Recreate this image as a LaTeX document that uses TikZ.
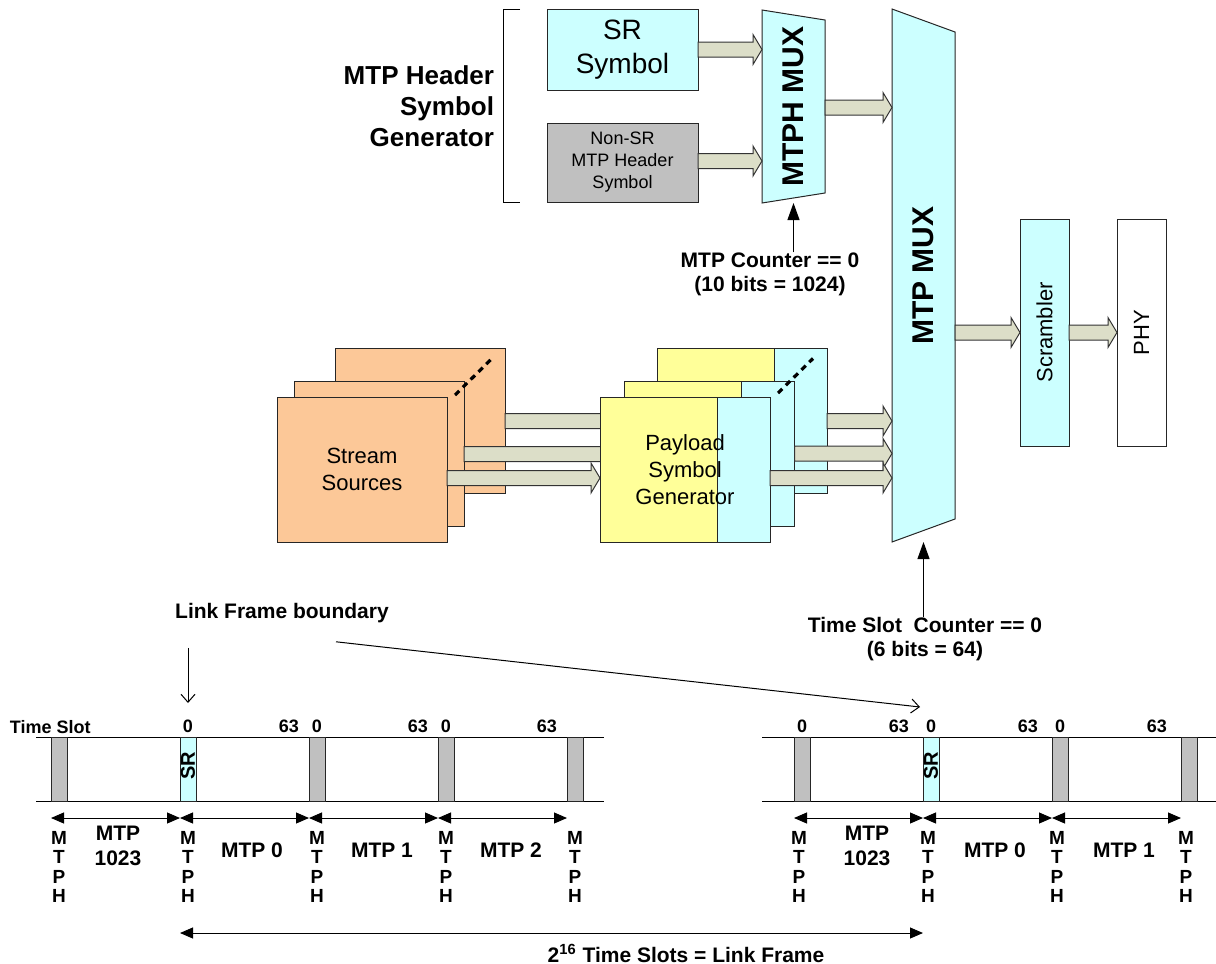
\documentclass[tikz,border=0pt]{standalone}
\usepackage{fontspec}
\setmainfont{Liberation Sans}
\usepackage{graphicx}
\usetikzlibrary{arrows.meta, positioning, calc}
\definecolor{muxcyan}{HTML}{CCFFFF}
\definecolor{hdrgray}{HTML}{C0C0C0}
\definecolor{srcorange}{HTML}{FCC898}
\definecolor{genyellow}{HTML}{FFFF99}
\definecolor{pipefill}{HTML}{DCDEC8}
\pgfdeclarelayer{bg}
\pgfdeclarelayer{fg}
\pgfsetlayers{bg,main,fg}

% block arrow: y from the first point, tip x from the second
\newcommand{\fatarrow}[2]{%
  \draw[pipe] let \p1=#1, \p2=#2 in
    (\x1,\y1+3.75pt) -- (\x2-4.5pt,\y1+3.75pt) -- (\x2-4.5pt,\y1+7.5pt) -- (\x2,\y1)
    -- (\x2-4.5pt,\y1-7.5pt) -- (\x2-4.5pt,\y1-3.75pt) -- (\x1,\y1-3.75pt) -- cycle;}
% mux outline behind a node, right side shorter by #2 at both ends
\newcommand{\muxoutline}[2]{%
  \begin{pgfonlayer}{bg}
    \draw[muxline] (#1.north west) -- ([yshift=-#2]#1.north east) -- ([yshift=#2]#1.south east) -- (#1.south west) -- cycle;
  \end{pgfonlayer}}

\begin{document}
\begin{tikzpicture}[
    x=0.5pt, y=-0.5pt,
    every node/.style={inner sep=0pt, outer sep=0pt},
    box/.style={rectangle, draw=black!85, line width=0.5pt, align=center},
    srbox/.style={box, fill=muxcyan, minimum width=75.5pt, minimum height=40.5pt, font=\fontsize{14}{17}\selectfont},
    hdrbox/.style={box, fill=hdrgray, minimum width=75.5pt, minimum height=39.5pt, font=\fontsize{9}{11}\selectfont},
    muxbox/.style={minimum width=31.5pt, font=\bfseries\fontsize{15}{18}\selectfont},
    muxline/.style={draw=black!85, line width=0.5pt, fill=muxcyan},
    tallbox/.style={box, minimum width=24.5pt, minimum height=113.5pt, font=\fontsize{11}{13}\selectfont},
    stream/.style={box, fill=srcorange, minimum width=85pt, minimum height=72.5pt, font=\fontsize{11}{13.5}\selectfont},
    payload/.style={box, fill=genyellow, minimum width=85pt, minimum height=72.5pt, font=\fontsize{11}{13.5}\selectfont,
      path picture={
        \fill[muxcyan] ([xshift=-26.5pt]path picture bounding box.north east) rectangle (path picture bounding box.south east);
        \draw[black!85, line width=0.5pt] ([xshift=-26.5pt]path picture bounding box.north east) -- ([xshift=-26.5pt]path picture bounding box.south east);}},
    pipe/.style={draw=black!80, line width=0.5pt, fill=pipefill},
    dots/.style={line width=1.6pt, dash pattern=on 3pt off 2.5pt},
    ctrl/.style={-{Triangle[width=6pt,length=8.5pt]}, line width=0.5pt},
    pointer/.style={-{Straight Barb[width=7pt,length=4pt]}, line width=0.5pt},
    dimarrow/.style={arrows={Triangle[width=5.5pt,length=6.5pt]-Triangle[width=5.5pt,length=6.5pt]}, line width=0.5pt},
    slot/.style={box, fill=hdrgray, minimum width=8pt, minimum height=32pt},
    srslot/.style={slot, fill=muxcyan, font=\bfseries\fontsize{10}{12}\selectfont},
    mtphcol/.style={align=center, font=\bfseries\fontsize{9.5}{9.65}\selectfont},
    mtplabel/.style={align=center, font=\bfseries\fontsize{10.5}{12.5}\selectfont},
    tick/.style={font=\bfseries\fontsize{9}{10}\selectfont},
    note/.style={align=center, font=\bfseries\fontsize{10.5}{12}\selectfont}
]
\useasboundingbox (0,0) rectangle (1216,964);

% MTP header symbol generator
\node[srbox] (srsym) at (622.5,49.5) {SR\\Symbol};
\node[hdrbox] (nonsr) at (622.5,162.5) {Non-SR\\MTP Header\\Symbol};
\node[anchor=east, align=right, font=\bfseries\fontsize{13}{15.5}\selectfont] (hdrgen) at (494,106) {MTP Header\\Symbol\\Generator};
\draw[line width=0.5pt] (520,9) -- (503,9) -- (503,202) -- (520,202);

% muxes
\node[muxbox, minimum height=96.5pt] (mtph) at (793.5,106.5) {\rotatebox{90}{MTPH MUX}};
\muxoutline{mtph}{5pt}
\node[muxbox, minimum height=266.5pt] (mtpmux) at (923.5,275.5) {\rotatebox{90}{MTP MUX}};
\muxoutline{mtpmux}{11.5pt}

% output chain
\node[tallbox, fill=muxcyan] (scr) at (1044.5,332.5) {\rotatebox{90}{Scrambler}};
\node[tallbox, fill=white, right=24pt of scr] (phy) {\rotatebox{90}{PHY}};

% counters
\node[note] (mtpcnt) at (770,274) {MTP Counter == 0\\(10 bits = 1024)};
\node[note] (tscnt) at (925,639) {Time Slot\ \ Counter == 0\\(6 bits = 64)};
\draw[ctrl] (mtpcnt.north -| mtph.south) -- (mtph.south);
\draw[ctrl] (tscnt.north -| mtpmux.south) -- (mtpmux.south);

\fatarrow{(srsym.east)}{(mtph.west)}
\fatarrow{([yshift=0.75pt]nonsr.east)}{(mtph.west)}
\fatarrow{([yshift=-0.5pt]mtph.east)}{(mtpmux.west)}
\fatarrow{(mtpmux.east |- scr.west)}{(scr.west)}
\fatarrow{(scr.east)}{(phy.west)}

% stream sources, back to front
\node[stream] (ss3) at (420,421) {};
\node[stream] (ss2) at (379,454) {};
\node[stream] (ss1) at (362,469.5) {Stream\\Sources};
\draw[dots] ($(ss1.north east)+(8,-2)$) -- ($(ss3.north east)+(-13,10)$);

% payload symbol generators
\begin{pgfonlayer}{fg}
\node[payload] (pg3) at (742,421) {};
\node[payload] (pg2) at (709.5,453.5) {};
\node[payload] (pg1) at (685,469.5) {Payload\\Symbol\\Generator};
\draw[dots] ($(pg1.north east)+(8,-4)$) -- ($(pg3.north east)+(-14,10)$);
\fatarrow{(pg3.east)}{(mtpmux.west)}
\fatarrow{(pg2.east)}{(mtpmux.west)}
\fatarrow{([yshift=-4.25pt]pg1.east)}{(mtpmux.west)}
\end{pgfonlayer}

\fatarrow{(ss3.east)}{(pg3.west)}
\fatarrow{(ss2.east)}{(pg2.west)}
\fatarrow{([yshift=-4.25pt]ss1.east)}{(pg1.west)}

% time slot rows
\draw[line width=0.5pt] (36,737) -- (604,737) (36,801) -- (604,801);
\draw[line width=0.5pt] (762,737) -- (1216,737) (762,801) -- (1216,801);

\node[slot] (l1) at (59,769) {};
\node[srslot] (l2) at (188,769) {\rotatebox{90}{\hspace{3pt}SR}};
\node[slot] (l3) at (317,769) {};
\node[slot] (l4) at (446,769) {};
\node[slot] (l5) at (575,769) {};
\node[slot] (r1) at (802,769) {};
\node[srslot] (r2) at (931,769) {\rotatebox{90}{\hspace{3pt}SR}};
\node[slot] (r3) at (1060,769) {};
\node[slot] (r4) at (1189,769) {};

\node[tick, anchor=west] (tslab) at (10,727) {Time Slot};
\node[tick, above=2pt of l2] (z2) {0};
\node[tick, above=2pt of l3] (z3) {0};
\node[tick, above=2pt of l4] (z4) {0};
\node[tick, above left=2pt and 5pt of l3] (e2) {63};
\node[tick, above left=2pt and 5pt of l4] (e3) {63};
\node[tick, above left=2pt and 5pt of l5] (e4) {63};
\node[tick, above=2pt of r1] (zr1) {0};
\node[tick, above=2pt of r2] (zr2) {0};
\node[tick, above=2pt of r3] (zr3) {0};
\node[tick, above left=2pt and 7pt of r2] (er1) {63};
\node[tick, above left=2pt and 7pt of r3] (er2) {63};
\node[tick, above left=2pt and 7pt of r4] (er3) {63};

\draw[dimarrow] ([yshift=-8.5pt]l1.south west) -- ([yshift=-8.5pt]l2.south west);
\draw[dimarrow] ([yshift=-8.5pt]l2.south west) -- ([yshift=-8.5pt]l3.south west);
\draw[dimarrow] ([yshift=-8.5pt]l3.south west) -- ([yshift=-8.5pt]l4.south west);
\draw[dimarrow] ([yshift=-8.5pt]l4.south west) -- ([yshift=-8.5pt]l5.south west);
\draw[dimarrow] ([yshift=-8.5pt]r1.south west) -- ([yshift=-8.5pt]r2.south west);
\draw[dimarrow] ([yshift=-8.5pt]r2.south west) -- ([yshift=-8.5pt]r3.south west);
\draw[dimarrow] ([yshift=-8.5pt]r3.south west) -- ([yshift=-8.5pt]r4.south west);

\node[mtphcol] (h1) at ($(l1.south)+(0,66)$) {M\\T\\P\\H};
\node[mtphcol] (h2) at ($(l2.south)+(0,66)$) {M\\T\\P\\H};
\node[mtphcol] (h3) at ($(l3.south)+(0,66)$) {M\\T\\P\\H};
\node[mtphcol] (h4) at ($(l4.south)+(0,66)$) {M\\T\\P\\H};
\node[mtphcol] (h5) at ($(l5.south)+(0,66)$) {M\\T\\P\\H};
\node[mtphcol] (hr1) at ($(r1.south)+(-3,66)$) {M\\T\\P\\H};
\node[mtphcol] (hr2) at ($(r2.south)+(-3,66)$) {M\\T\\P\\H};
\node[mtphcol] (hr3) at ($(r3.south)+(-3,66)$) {M\\T\\P\\H};
\node[mtphcol] (hr4) at ($(r4.south)+(-3,66)$) {M\\T\\P\\H};

\node[mtplabel] (m1023a) at (118,846) {MTP\\1023};
\node[mtplabel] (m0a) at (252,850) {MTP 0};
\node[mtplabel] (m1a) at (382,850) {MTP 1};
\node[mtplabel] (m2a) at (511,850) {MTP 2};
\node[mtplabel] (m1023b) at (867,846) {MTP\\1023};
\node[mtplabel] (m0b) at (995,850) {MTP 0};
\node[mtplabel] (m1b) at (1124,850) {MTP 1};

% link frame
\node[note] (lfb) at (282,613) {Link Frame boundary};
\draw[pointer] ($(lfb.south -| l2.north)+(0,25)$) -- ($(l2.north)+(0,-34)$);
\draw[pointer] ($(lfb.south)+(54,19)$) -- ($(r2.north)+(-11,-30)$);
\draw[dimarrow] ($(l2.south west)+(0,132)$) -- ($(r2.south west)+(0,132)$);
\node[note] (lframe) at (686,953) {2\textsuperscript{16} Time Slots = Link Frame};

\end{tikzpicture}
\end{document}
